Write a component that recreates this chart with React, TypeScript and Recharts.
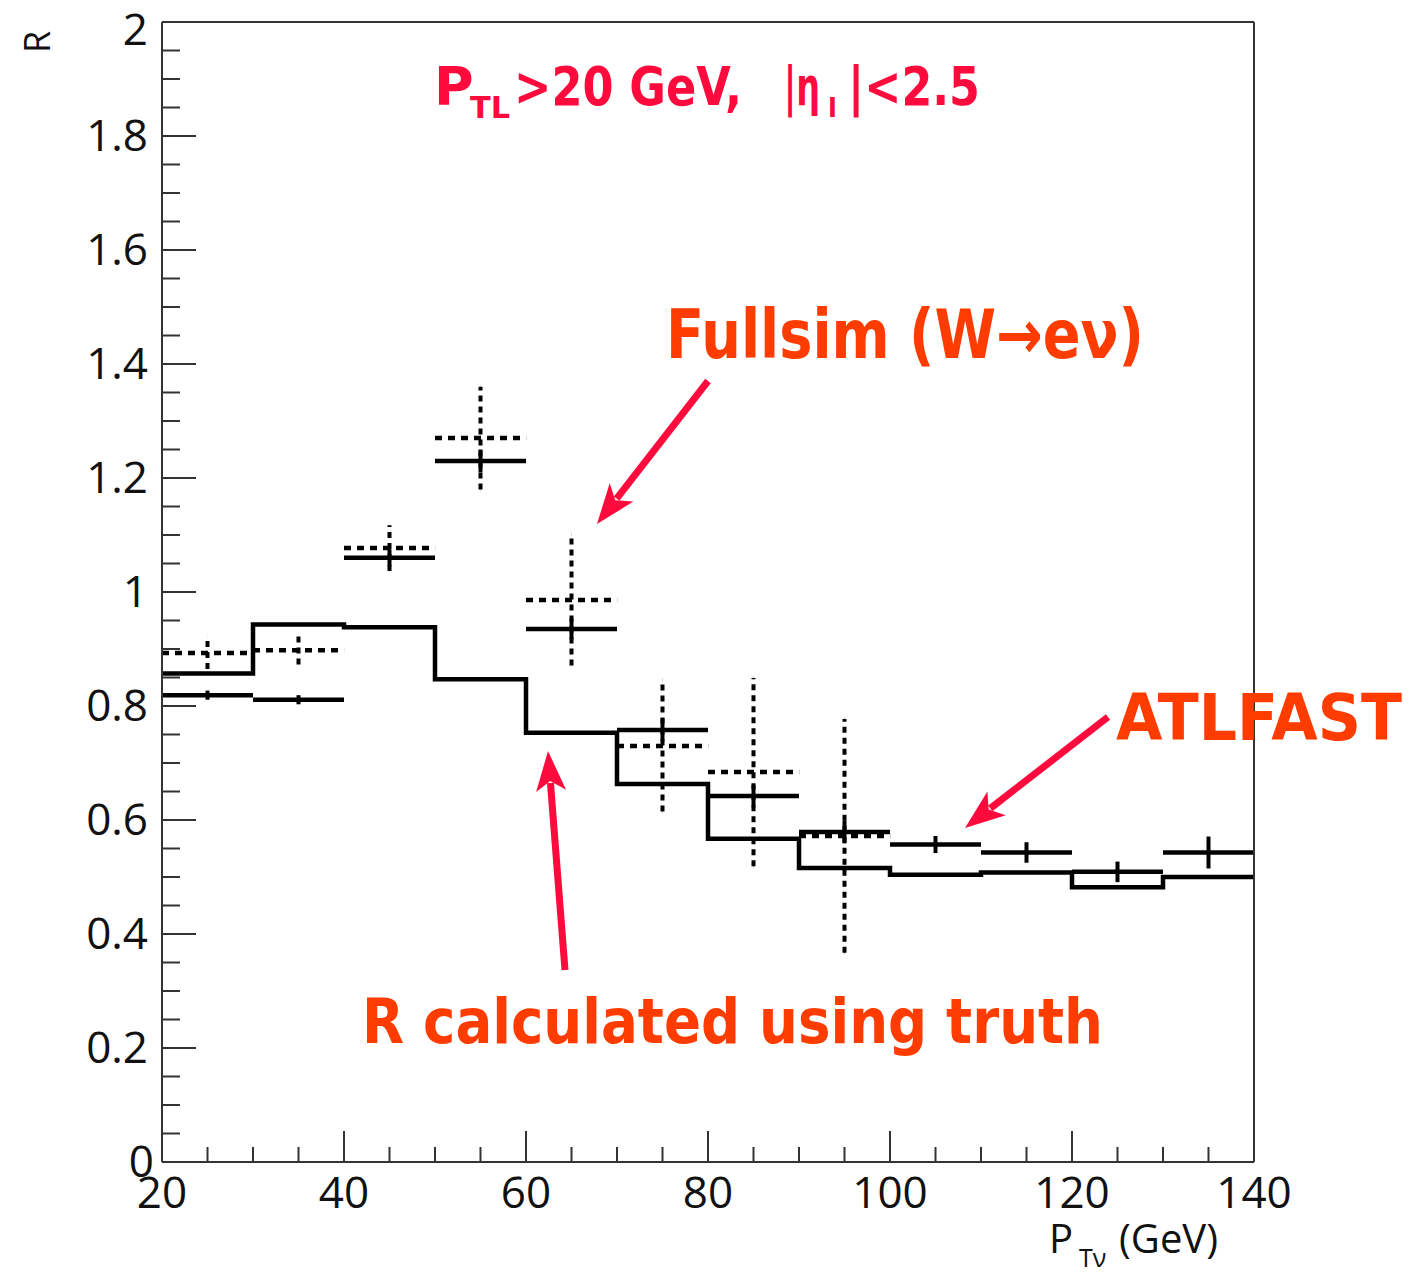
import { ComposedChart, Line, Scatter, ErrorBar, XAxis, YAxis } from "recharts";

// bins of P_Tnu (GeV), 10 GeV wide
const binLow = [20, 30, 40, 50, 60, 70, 80, 90, 100, 110, 120, 130];
const binHalfWidth = 5;

// R calculated using truth (step histogram)
const truthR = [0.857, 0.943, 0.938, 0.847, 0.753, 0.663, 0.567, 0.516, 0.504, 0.508, 0.482, 0.5];

// ATLFAST (solid crosses)
const atlfastR = [0.819, 0.811, 1.06, 1.23, 0.935, 0.758, 0.642, 0.579, 0.557, 0.543, 0.509, 0.543];
const atlfastErr = [0.008, 0.008, 0.015, 0.02, 0.018, 0.02, 0.02, 0.02, 0.015, 0.018, 0.018, 0.028];

// Fullsim W->e nu (dashed crosses), first 8 bins only
const fullsimR = [0.893, 0.898, 1.077, 1.27, 0.986, 0.73, 0.684, 0.572];
const fullsimErr = [0.028, 0.025, 0.04, 0.09, 0.115, 0.115, 0.165, 0.205];

const xTickLabels = [20, 40, 60, 80, 100, 120, 140];
const yTickLabels = [0, 0.2, 0.4, 0.6, 0.8, 1, 1.2, 1.4, 1.6, 1.8, 2];

const truthData = [
  ...binLow.map((x, i) => ({ x, r: truthR[i] })),
  { x: 140, r: truthR[truthR.length - 1] },
];
const atlfastData = binLow.map((x, i) => ({
  x: x + binHalfWidth,
  r: atlfastR[i],
  ex: binHalfWidth,
  ey: atlfastErr[i],
}));
const fullsimData = fullsimR.map((r, i) => ({
  x: binLow[i] + binHalfWidth,
  r,
  ex: binHalfWidth,
  ey: fullsimErr[i],
}));

// minor ticks every 5 GeV / 0.05
const xTicks = Array.from({ length: 25 }, (_, i) => 20 + 5 * i);
const yTicks = Array.from({ length: 41 }, (_, i) => i / 20);

const AXIS = "#333";
const FONT = "'Open Sans', 'DejaVu Sans', sans-serif";
const HAND = "'DejaVu Sans', sans-serif";
const RED = "#ff0a3c";
const ORANGE = "#ff3c00";

const YTick = (props: any) => {
  const { x, y, payload } = props;
  const v = payload.value;
  const major = yTickLabels.some((t) => Math.abs(t - v) < 1e-6);
  const top = v > 1.99;
  const bottom = v < 0.01;
  return (
    <g>
      <line x1={x} x2={x + (major ? 34 : 18)} y1={y} y2={y} stroke={AXIS} strokeWidth={2} />
      {major && (
        <text
          x={x - (bottom ? 8 : 14)}
          y={y}
          dy={top ? 23 : 15}
          textAnchor="end"
          fontSize={44}
          fontFamily={FONT}
          fill="#111"
        >
          {String(Math.round(v * 10) / 10)}
        </text>
      )}
    </g>
  );
};

const XTick = (props: any) => {
  const { x, y, payload } = props;
  const v = payload.value;
  const major = xTickLabels.includes(v);
  return (
    <g>
      <line x1={x} x2={x} y1={y} y2={y - (major ? 31 : 15)} stroke={AXIS} strokeWidth={2} />
      {major && (
        <text x={x} y={y + 46} textAnchor="middle" fontSize={44} fontFamily={FONT} fill="#111">
          {v}
        </text>
      )}
    </g>
  );
};

const noPoint = () => <g />;

const Arrow = ({ x1, y1, x2, y2 }: { x1: number; y1: number; y2: number; x2: number }) => {
  const ang = Math.atan2(y2 - y1, x2 - x1);
  const len = 40;
  const half = 15;
  const bx = x2 - len * Math.cos(ang);
  const by = y2 - len * Math.sin(ang);
  const px = -Math.sin(ang) * half;
  const py = Math.cos(ang) * half;
  return (
    <g>
      <line x1={x1} y1={y1} x2={bx + 8 * Math.cos(ang)} y2={by + 8 * Math.sin(ang)} stroke={RED} strokeWidth={7} />
      <polygon
        points={`${x2},${y2} ${bx + px},${by + py} ${bx + 10 * Math.cos(ang)},${by + 10 * Math.sin(ang)} ${bx - px},${by - py}`}
        fill={RED}
      />
    </g>
  );
};

export default function App() {
  return (
    <div style={{ position: "absolute", left: 0, top: 0, width: 1418, height: 1274, background: "#fff" }}>
      <ComposedChart
        width={1418}
        height={1274}
        margin={{ top: 21, right: 163, bottom: 111, left: 161 }}
      >
        <XAxis
          dataKey="x"
          type="number"
          domain={[20, 140]}
          ticks={xTicks}
          interval={0}
          tick={<XTick />}
          tickLine={false}
          tickSize={0}
          tickMargin={0}
          height={1}
          allowDataOverflow
          axisLine={{ stroke: AXIS, strokeWidth: 2 }}
        />
        <XAxis
          xAxisId="top"
          orientation="top"
          type="number"
          domain={[20, 140]}
          tick={false}
          tickLine={false}
          height={1}
          axisLine={{ stroke: AXIS, strokeWidth: 2 }}
        />
        <YAxis
          type="number"
          domain={[0, 2]}
          ticks={yTicks}
          interval={0}
          tick={<YTick />}
          tickLine={false}
          tickSize={0}
          tickMargin={0}
          width={1}
          allowDataOverflow
          axisLine={{ stroke: AXIS, strokeWidth: 2 }}
        />
        <YAxis
          yAxisId="right"
          orientation="right"
          type="number"
          domain={[0, 2]}
          tick={false}
          tickLine={false}
          width={1}
          axisLine={{ stroke: AXIS, strokeWidth: 2 }}
        />
        <Line
          data={truthData}
          dataKey="r"
          type="stepAfter"
          stroke="#000"
          strokeWidth={4.5}
          dot={false}
          isAnimationActive={false}
        />
        <Scatter data={atlfastData} dataKey="r" shape={noPoint} isAnimationActive={false}>
          <ErrorBar dataKey="ex" direction="x" width={0} stroke="#000" strokeWidth={4.5} isAnimationActive={false} />
          <ErrorBar dataKey="ey" direction="y" width={0} stroke="#000" strokeWidth={4} isAnimationActive={false} />
        </Scatter>
        <Scatter data={fullsimData} dataKey="r" shape={noPoint} isAnimationActive={false}>
          <ErrorBar
            dataKey="ex"
            direction="x"
            width={0}
            stroke="#000"
            strokeWidth={4.5}
            strokeDasharray="7 6"
            isAnimationActive={false}
          />
          <ErrorBar
            dataKey="ey"
            direction="y"
            width={0}
            stroke="#000"
            strokeWidth={4}
            strokeDasharray="6 5"
            isAnimationActive={false}
          />
        </Scatter>
      </ComposedChart>

      <svg
        width={1418}
        height={1274}
        style={{ position: "absolute", left: 0, top: 0, pointerEvents: "none" }}
      >
        {/* axis titles */}
        <text x={50} y={42} transform="rotate(-90 50 42)" textAnchor="middle" fontSize={36} fontFamily={FONT} fill="#111">
          R
        </text>
        <text x={1049} y={1253} fontSize={40} fontFamily={FONT} fill="#111">
          P
        </text>
        <text x={1079} y={1267} fontSize={25} fontFamily={FONT} fill="#111">
          Tν
        </text>
        <text x={1119} y={1253} fontSize={40} fontFamily={FONT} fill="#111">
          (GeV)
        </text>

        {/* cut label */}
        <g fontFamily={HAND} fontWeight="bold" fill={RED}>
          <text x={434} y={105} fontSize={54}>P</text>
          <text x={470} y={118} fontSize={30} textLength={40} lengthAdjust="spacingAndGlyphs">TL</text>
          <text x={514} y={105} fontSize={54} textLength={228} lengthAdjust="spacingAndGlyphs">&gt;20 GeV,</text>
          <text x={784} y={105} fontSize={54} textLength={36} lengthAdjust="spacingAndGlyphs">|η</text>
          <text x={828} y={117} fontSize={26}>l</text>
          <text x={848} y={105} fontSize={54} textLength={132} lengthAdjust="spacingAndGlyphs">|&lt;2.5</text>
        </g>

        {/* annotations */}
        <g fontFamily={HAND} fontWeight="bold" fill={ORANGE}>
          <text x={666} y={358} fontSize={68} textLength={478} lengthAdjust="spacingAndGlyphs">
            Fullsim (W→eν)
          </text>
          <text x={1116} y={740} fontSize={64} textLength={286} lengthAdjust="spacingAndGlyphs">
            ATLFAST
          </text>
          <text x={362} y={1043} fontSize={62} textLength={741} lengthAdjust="spacingAndGlyphs">
            R calculated using truth
          </text>
        </g>

        <Arrow x1={708} y1={381} x2={597} y2={524} />
        <Arrow x1={1108} y1={717} x2={965} y2={828} />
        <Arrow x1={565} y1={970} x2={548} y2={751} />
      </svg>
    </div>
  );
}
